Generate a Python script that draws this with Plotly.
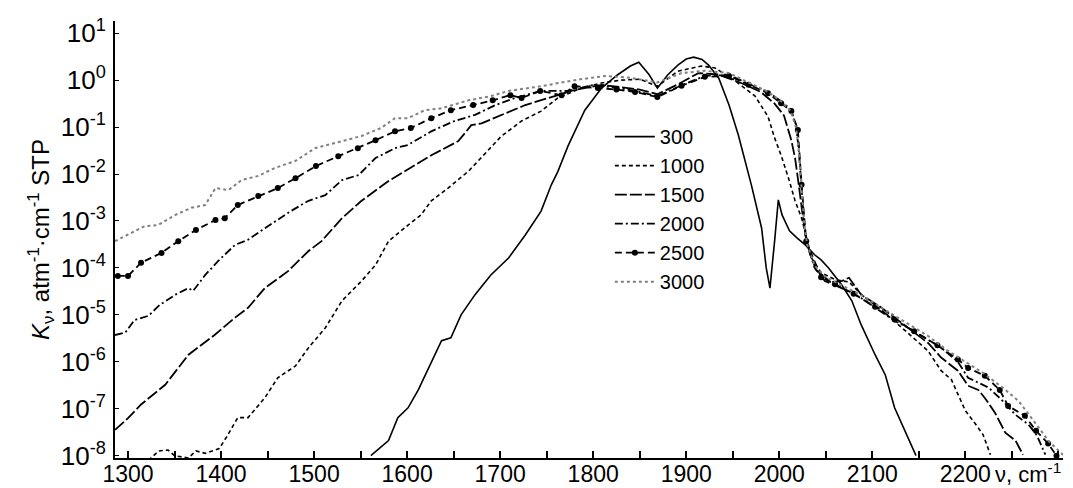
import plotly.graph_objects as go

# ---- data (wavenumber cm^-1, K in atm^-1 cm^-1 STP) ----
x300 = [1561, 1570, 1580, 1590, 1601, 1612, 1623, 1637, 1647, 1658, 1673, 1690, 1709, 1727, 1744, 1755,
        1762, 1773, 1791, 1809, 1826, 1840, 1849, 1860, 1869, 1880, 1891, 1900, 1908, 1917, 1924, 1935,
        1946, 1956, 1970, 1981, 1986, 1990, 1995, 1999, 2003, 2011, 2019, 2028, 2038, 2045, 2053, 2067,
        2078, 2088, 2103, 2114, 2124, 2135, 2147]
lg300 = [-8.0, -7.85, -7.68, -7.19, -6.98, -6.6, -6.13, -5.55, -5.49, -5.0, -4.57, -4.15, -3.79, -3.30, -2.79, -2.23,
         -1.95, -1.40, -0.64, -0.17, 0.11, 0.30, 0.38, 0.12, -0.17, 0.11, 0.32, 0.45, 0.49, 0.44, 0.32, 0.04,
         -0.53, -1.17, -2.23, -3.15, -4.0, -4.43, -3.43, -2.55, -2.87, -3.21, -3.36, -3.51, -3.72, -3.83, -4.0, -4.36,
         -4.70, -5.21, -5.85, -6.28, -6.98, -7.47, -8.0]

x1000 = [1322, 1333, 1343, 1350, 1365, 1373, 1383, 1390, 1398, 1406, 1418, 1429, 1447, 1461, 1480, 1494,
         1512, 1530, 1551, 1566, 1580, 1601, 1615, 1626, 1644, 1666, 1684, 1701, 1723, 1744, 1762, 1787,
         1809, 1830, 1850, 1869, 1891, 1916, 1931, 1953, 1974, 1988, 1995, 2002, 2010, 2017, 2024, 2029,
         2035, 2045, 2060, 2075, 2090, 2110, 2125, 2139, 2160, 2174, 2185, 2192, 2200, 2210, 2219, 2227]
lg1000 = [-8.1, -7.9, -7.88, -8.0, -8.05, -7.9, -7.95, -7.9, -7.85, -7.6, -7.19, -7.19, -6.77, -6.34, -6.09, -5.70,
          -5.28, -4.70, -4.28, -3.94, -3.43, -3.09, -2.87, -2.57, -2.30, -1.94, -1.55, -1.20, -0.87, -0.66, -0.38, -0.17,
          -0.06, 0.0, 0.02, -0.13, 0.19, 0.30, 0.26, -0.02, -0.34, -0.78, -1.23, -1.60, -2.09, -2.57, -2.94, -3.36,
          -3.80, -4.10, -4.25, -4.30, -4.60, -4.90, -5.15, -5.40, -5.77, -6.19, -6.38, -6.70, -7.04, -7.30, -7.55, -7.98]

x1500 = [1286, 1300, 1314, 1340, 1365, 1393, 1415, 1429, 1447, 1472, 1494, 1508, 1530, 1551, 1580, 1609,
         1626, 1655, 1669, 1680, 1701, 1727, 1752, 1780, 1809, 1830, 1850, 1869, 1890, 1913, 1934, 1959,
         1980, 1995, 2005, 2013, 2017, 2020, 2024, 2028, 2033, 2040, 2055, 2067, 2075, 2088, 2110, 2139,
         2160, 2174, 2192, 2203, 2214, 2221, 2232, 2243, 2254, 2262]
lg1500 = [-7.45, -7.2, -6.91, -6.49, -5.85, -5.43, -5.06, -4.85, -4.43, -4.07, -3.64, -3.43, -2.94, -2.57, -2.15, -1.81,
          -1.60, -1.30, -0.96, -0.92, -0.74, -0.53, -0.38, -0.21, -0.10, -0.15, -0.20, -0.30, -0.10, 0.15, 0.12, -0.06,
          -0.25, -0.50, -0.75, -1.28, -1.66, -2.09, -2.72, -3.30, -3.70, -4.05, -4.30, -4.28, -4.21, -4.57, -4.85, -5.28,
          -5.60, -5.91, -6.19, -6.51, -6.60, -6.77, -7.09, -7.51, -7.68, -7.98]

x2000 = [1286, 1297, 1307, 1322, 1334, 1351, 1365, 1370, 1383, 1397, 1415, 1429, 1443, 1461, 1475, 1494,
         1512, 1530, 1548, 1566, 1587, 1601, 1626, 1651, 1673, 1695, 1716, 1744, 1773, 1798, 1820, 1845,
         1869, 1895, 1920, 1946, 1967, 1988, 2002, 2012, 2018, 2021, 2024, 2027, 2030, 2038, 2049, 2067,
         2088, 2103, 2124, 2139, 2157, 2174, 2192, 2203, 2225, 2239, 2254, 2268, 2277, 2286]
lg2000 = [-5.43, -5.38, -5.11, -5.02, -4.79, -4.57, -4.43, -4.49, -4.15, -3.85, -3.51, -3.40, -3.21, -2.98, -2.79, -2.57,
          -2.45, -2.13, -2.02, -1.66, -1.45, -1.38, -1.09, -0.87, -0.74, -0.53, -0.38, -0.23, -0.23, -0.11, -0.15, -0.23,
          -0.34, -0.11, 0.09, 0.11, -0.08, -0.25, -0.45, -0.62, -0.95, -1.50, -2.30, -3.10, -3.50, -4.00, -4.28, -4.43,
          -4.64, -4.85, -5.13, -5.28, -5.49, -5.70, -6.00, -6.34, -6.55, -6.81, -7.13, -7.34, -7.57, -7.98]

x2500 = [1289, 1300, 1314, 1336, 1354, 1373, 1394, 1404, 1418, 1440, 1461, 1480, 1502, 1526, 1547, 1566,
         1587, 1604, 1626, 1647, 1671, 1692, 1711, 1723, 1743, 1766, 1780, 1805, 1825, 1845, 1869, 1895,
         1920, 1946, 1967, 1988, 2002, 2013, 2020, 2024, 2029, 2045, 2060, 2080, 2103, 2124, 2145, 2170,
         2192, 2203, 2221, 2237, 2246, 2264, 2276, 2289, 2298]
lg2500 = [-4.17, -4.17, -3.89, -3.68, -3.43, -3.19, -2.98, -2.94, -2.66, -2.47, -2.30, -2.09, -1.83, -1.62, -1.45, -1.28,
          -1.09, -1.02, -0.81, -0.64, -0.53, -0.43, -0.32, -0.38, -0.23, -0.32, -0.13, -0.17, -0.20, -0.25, -0.36, -0.12,
          0.07, 0.09, -0.10, -0.28, -0.49, -0.66, -1.06, -2.23, -3.43, -4.20, -4.35, -4.55, -4.83, -5.10, -5.35, -5.65,
          -5.95, -6.13, -6.30, -6.60, -6.94, -7.15, -7.47, -7.74, -8.0]

x3000 = [1286, 1307, 1318, 1332, 1351, 1368, 1383, 1394, 1408, 1422, 1440, 1458, 1480, 1501, 1529, 1551,
         1572, 1587, 1601, 1619, 1637, 1666, 1690, 1709, 1744, 1780, 1813, 1840, 1869, 1895, 1920, 1946,
         1967, 1988, 2002, 2012, 2018, 2021, 2024, 2027, 2030, 2038, 2050, 2070, 2090, 2110, 2139, 2160,
         2180, 2200, 2220, 2240, 2257, 2275, 2290, 2306]
lg3000 = [-3.43, -3.21, -3.11, -3.09, -2.87, -2.72, -2.66, -2.30, -2.34, -2.13, -2.04, -1.87, -1.72, -1.45, -1.30, -1.19,
          -1.02, -0.81, -0.81, -0.64, -0.60, -0.43, -0.34, -0.23, -0.13, 0.0, 0.09, 0.05, -0.05, 0.15, 0.20, 0.15,
          -0.05, -0.25, -0.45, -0.65, -1.00, -1.50, -2.30, -3.10, -3.50, -3.95, -4.20, -4.40, -4.60, -4.85, -5.20, -5.45,
          -5.75, -6.00, -6.25, -6.55, -6.83, -7.30, -7.70, -8.0]

series_names = ["300", "1000", "1500", "2000", "2500", "3000"]

x_tick_vals = [1300, 1400, 1500, 1600, 1700, 1800, 1900, 2000, 2100, 2200]
x_tick_text = ["1300", "1400", "1500", "1600", "1700", "1800", "1900", "2000", "2100", "2200"]
y_exponents = [-8, -7, -6, -5, -4, -3, -2, -1, 0, 1]

# ---- build figure ----
def K(lg):
    return [10 ** v for v in lg]

styles = [
    dict(color="black", width=1.6, dash="solid"),
    dict(color="black", width=1.6, dash="4px,3px"),
    dict(color="black", width=1.8, dash="12px,3px"),
    dict(color="black", width=1.8, dash="8px,3px,2px,3px"),
    dict(color="black", width=1.8, dash="7px,4px"),
    dict(color="#808080", width=2.0, dash="dot"),
]
xs = [x300, x1000, x1500, x2000, x2500, x3000]
ls = [lg300, lg1000, lg1500, lg2000, lg2500, lg3000]

fig = go.Figure()
for name, x, lg, st in zip(series_names, xs, ls, styles):
    mode = "lines+markers" if name == "2500" else "lines"
    fig.add_trace(go.Scatter(
        x=x, y=K(lg), name=name, mode=mode,
        line=st,
        marker=dict(size=6, color="black", symbol="circle"),
    ))

font_main = "Liberation Sans, Arial, sans-serif"

fig.update_layout(
    width=1073, height=488,
    margin=dict(l=107, r=18, t=13, b=38),
    paper_bgcolor="white", plot_bgcolor="white",
    font=dict(family=font_main, color="black"),
    showlegend=True,
    legend=dict(
        x=0.522, y=0.78, xanchor="left", yanchor="top",
        bgcolor="rgba(0,0,0,0)", borderwidth=0,
        font=dict(size=20, family=font_main, color="black"),
        tracegroupgap=0, itemwidth=40,
    ),
    xaxis=dict(
        range=[1286, 2305], automargin=False,
        tickmode="array", tickvals=x_tick_vals, ticktext=x_tick_text,
        ticks="inside", ticklen=7, tickwidth=1.5, tickcolor="black",
        minor=dict(dtick=50, ticks="inside", ticklen=7, tickwidth=1.5, tickcolor="black"),
        showline=True, linecolor="black", linewidth=2,
        showgrid=False, zeroline=False,
        ticklabelstandoff=-6,
        tickfont=dict(size=23, family=font_main, color="black"),
    ),
    yaxis=dict(
        type="log", range=[-8.05, 1.26], automargin=False,
        tickmode="array",
        tickvals=[10 ** e for e in y_exponents],
        ticktext=["10<sup>%d</sup>" % e for e in y_exponents],
        ticks="inside", ticklen=4, tickwidth=1.2, tickcolor="black",
        showline=True, linecolor="black", linewidth=2,
        showgrid=False, zeroline=False,
        ticklabelstandoff=2,
        tickfont=dict(size=26, family=font_main, color="black"),
        title=dict(text="<i>K</i><sub>ν</sub>, atm<sup>-1</sup>·cm<sup>-1</sup> STP",
                   font=dict(size=24, family=font_main, color="black"), standoff=4),
    ),
)

fig.add_annotation(
    text="ν, cm<sup>-1</sup>", xref="paper", yref="paper",
    x=1.0, y=0, xanchor="right", yanchor="top", yshift=1,
    showarrow=False, font=dict(size=22, family=font_main, color="black"),
)

fig.write_html("out.html")
